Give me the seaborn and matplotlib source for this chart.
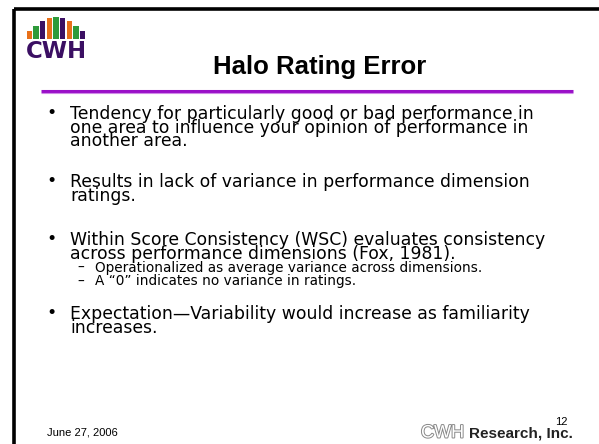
import seaborn as sns
import matplotlib.pyplot as plt
from matplotlib.patches import Rectangle
import matplotlib.patheffects as pe

sns.set_style("white")
plt.rcParams['font.family'] = ['Liberation Sans', 'DejaVu Sans']
plt.rcParams['text.color'] = 'black'

# slide text
title = "Halo Rating Error"
bullets = [
    ["Tendency for particularly good or bad performance in",
     "one area to influence your opinion of performance in",
     "another area."],
    ["Results in lack of variance in performance dimension",
     "ratings."],
    ["Within Score Consistency (WSC) evaluates consistency",
     "across performance dimensions (Fox, 1981)."],
    ["Expectation\u2014Variability would increase as familiarity",
     "increases."],
]
bullet_base = [118, 186, 244, 318]
sub_bullets = ["Operationalized as average variance across dimensions.",
               "A \u201c0\u201d indicates no variance in ratings."]
sub_base = 271
date_text = "June 27, 2006"
page_no = "12"

# logo bars (relative heights)
logo_heights = [0.35, 0.6, 0.8, 0.95, 1.0, 0.95, 0.8, 0.6, 0.35]
logo_colors = ['#e8701a', '#2e9a3a', '#3b0f63'] * 3

body_font = 'DejaVu Sans'
body_size = 12.4
sub_size = 9.8


def spacing(size, gap=14):
    # ascent / descent in px for DejaVu Sans, gives matplotlib linespacing for a px gap
    a = 0.76 * size * 100 / 72
    d = 0.38 * a
    return a, (gap - d) / a


fig = plt.figure(figsize=(5.99, 4.44), dpi=100)
ax = fig.add_axes([0, 0, 1, 1])
ax.set_xlim(0, 599)
ax.set_ylim(444, 0)
ax.axis('off')

# frame lines
ax.plot([13.5, 599], [9.5, 9.5], color='black', lw=2.6, solid_capstyle='butt')
ax.plot([13.5, 13.5], [9.5, 444], color='black', lw=2.6, solid_capstyle='butt')
ax.plot([41, 573], [91, 91], color='#9a10c8', lw=2.2, solid_capstyle='butt')
ax.plot([41, 573], [92.6, 92.6], color='#d08ae8', lw=0.8, solid_capstyle='butt')

# logo
bw = 60 / len(logo_heights)
for i, (h, c) in enumerate(zip(logo_heights, logo_colors)):
    ax.add_patch(Rectangle((26 + i * bw + 0.6, 39 - 22 * h), bw - 1.2, 22 * h, color=c, lw=0))
ax.text(56, 51, "CWH", ha='center', va='center', fontsize=16.5, fontweight='heavy',
        color='#3b0f63', family='DejaVu Sans')

ax.text(320, 67, title, ha='center', va='center', fontsize=18.5, fontweight='bold')

asc, ls = spacing(body_size)
for base, lines in zip(bullet_base, bullets):
    ax.text(46, base, "\u2022", ha='left', va='baseline', fontsize=body_size,
            family=body_font)
    ax.text(70, base - asc, "\n".join(lines), ha='left', va='top',
            fontsize=body_size, family=body_font, linespacing=ls)

sub_asc, sub_ls = spacing(sub_size)
ax.text(77, sub_base - sub_asc, "\u2013\n\u2013", ha='left', va='top',
        fontsize=sub_size, family=body_font, linespacing=sub_ls)
ax.text(95, sub_base - sub_asc, "\n".join(sub_bullets), ha='left', va='top',
        fontsize=sub_size, family=body_font, linespacing=sub_ls)

ax.text(47, 432, date_text, ha='left', va='center', fontsize=8)
ax.text(561, 422, page_no, ha='center', va='center', fontsize=8)
ax.text(421, 433, "CWH", ha='left', va='center', fontsize=13, color='white',
        path_effects=[pe.withStroke(linewidth=1.4, foreground='#888888')])
ax.text(573, 433, "Research, Inc.", ha='right', va='center', fontsize=11,
        fontweight='heavy', color='#222222')

fig.savefig("out.png", dpi=100)
